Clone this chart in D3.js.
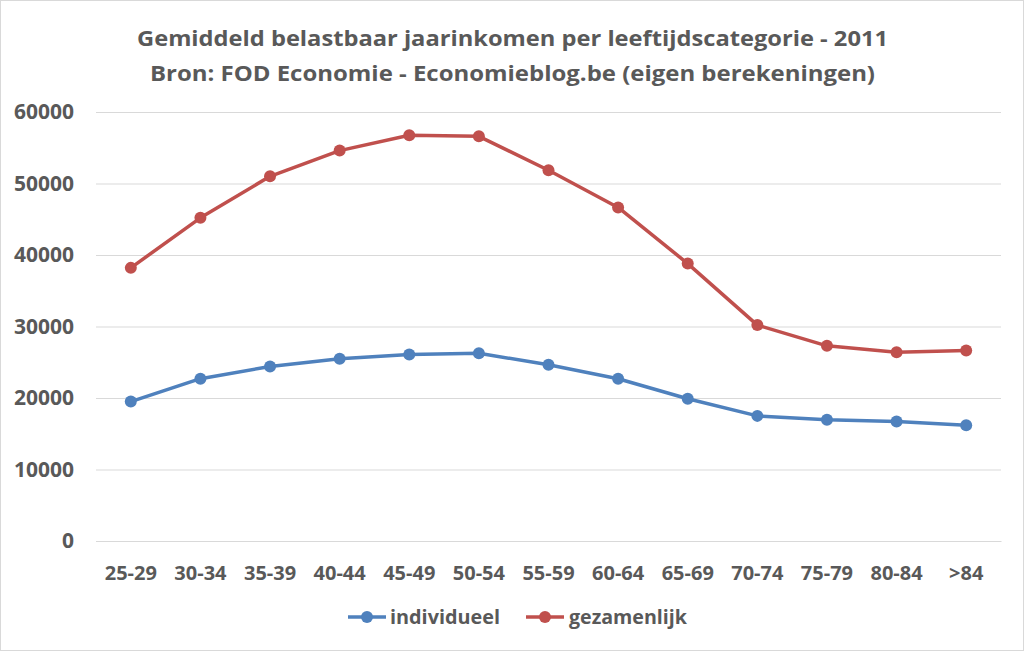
<!DOCTYPE html>
<html><head><meta charset="utf-8">
<script src="https://cdn.jsdelivr.net/npm/d3@7"></script>
<style>html,body{margin:0;padding:0;background:#fff;}svg{display:block;}</style>
</head><body>
<script>
const categories = ["25-29","30-34","35-39","40-44","45-49","50-54","55-59","60-64","65-69","70-74","75-79","80-84",">84"];
const individueel = [19500,22700,24400,25500,26100,26250,24650,22700,19900,17500,16950,16700,16200];
const gezamenlijk = [38200,45200,51000,54600,56750,56600,51850,46650,38800,30200,27300,26400,26650];
const yTicks = [0,10000,20000,30000,40000,50000,60000];
const titleLines = ["Gemiddeld belastbaar jaarinkomen per leeftijdscategorie - 2011","Bron: FOD Economie - Economieblog.be (eigen berekeningen)"];
const seriesNames = ["individueel","gezamenlijk"];
const colors = ["#4f81bd","#c0504d"];

const W=1024,H=651;
const svg=d3.select("body").append("svg").attr("width",W).attr("height",H);
const font="'Open Sans', sans-serif";
const grey="#595959";

svg.append("rect").attr("x",0.5).attr("y",0.5).attr("width",W-1).attr("height",H-1)
  .attr("fill","#fff").attr("stroke","#d9d9d9");

// title
const tl=[{y:46,x0:137,x1:888},{y:81,x0:150,x1:875}];
titleLines.forEach((t,i)=>{
  svg.append("text").attr("x",tl[i].x0).attr("y",tl[i].y)
    .attr("textLength",tl[i].x1-tl[i].x0).attr("lengthAdjust","spacingAndGlyphs")
    .attr("font-family",font).attr("font-weight","bold").attr("font-size",22)
    .attr("fill",grey).text(t);
});

const x=d3.scaleBand().domain(categories).range([96,1001]);
const y=d3.scaleLinear().domain([0,60000]).range([541,112]);

// gridlines
svg.append("g").selectAll("line").data(yTicks).join("line")
  .attr("x1",96).attr("x2",1001).attr("y1",d=>y(d)+0.5).attr("y2",d=>y(d)+0.5)
  .attr("stroke","#d9d9d9").attr("stroke-width",1);

// y axis
const ya=svg.append("g").attr("transform","translate(96,0)")
  .call(d3.axisLeft(y).tickValues(yTicks).tickSize(0).tickPadding(22).tickFormat(d3.format("d")));
ya.select(".domain").remove();
ya.selectAll("text").attr("font-family",font).attr("font-weight","bold").attr("font-size",21).attr("fill",grey);

// x axis
const xa=svg.append("g").attr("transform","translate(0,541)")
  .call(d3.axisBottom(x).tickSize(0).tickPadding(25));
xa.select(".domain").attr("stroke","#d9d9d9");
xa.selectAll("text").attr("font-family",font).attr("font-weight","bold").attr("font-size",20).attr("fill",grey);

const cx=d=>x(d)+x.bandwidth()/2;
[individueel,gezamenlijk].forEach((vals,si)=>{
  const pts=categories.map((c,i)=>[cx(c),y(vals[i])]);
  svg.append("path").attr("d",d3.line()(pts)).attr("fill","none")
    .attr("stroke",colors[si]).attr("stroke-width",3.5).attr("stroke-linejoin","round");
  svg.append("g").selectAll("circle").data(pts).join("circle")
    .attr("cx",d=>d[0]).attr("cy",d=>d[1]).attr("r",6).attr("fill",colors[si]);
});

// legend
const lg=[{x:348,tx:390,tw:110},{x:526,tx:569,tw:118}];
seriesNames.forEach((n,i)=>{
  const g=svg.append("g");
  g.append("line").attr("x1",lg[i].x).attr("x2",lg[i].x+38).attr("y1",617).attr("y2",617)
    .attr("stroke",colors[i]).attr("stroke-width",3.5);
  g.append("circle").attr("cx",lg[i].x+19).attr("cy",617).attr("r",6).attr("fill",colors[i]);
  g.append("text").attr("x",lg[i].tx).attr("y",617).attr("dy","0.35em")
    .attr("textLength",lg[i].tw).attr("lengthAdjust","spacingAndGlyphs")
    .attr("font-family",font).attr("font-weight","bold").attr("font-size",20).attr("fill",grey).text(n);
});
</script>
</body></html>
